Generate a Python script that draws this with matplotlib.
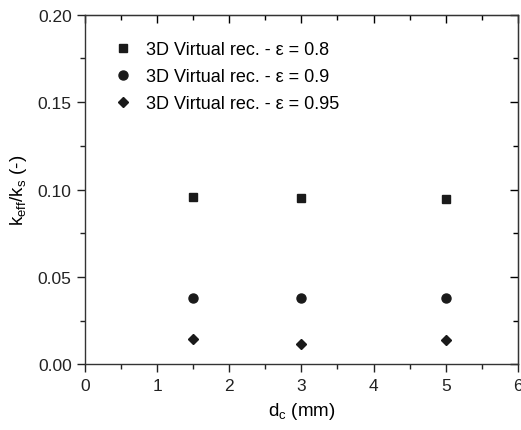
import matplotlib
matplotlib.use("Agg")
import matplotlib.pyplot as plt
from matplotlib.ticker import MultipleLocator

plt.rcParams['font.family'] = ['Liberation Sans', 'DejaVu Sans']
plt.rcParams['mathtext.fontset'] = 'custom'
plt.rcParams['mathtext.rm'] = 'Liberation Sans'
plt.rcParams['mathtext.it'] = 'Liberation Sans'

# cell diameter (mm)
d_c = [1.5, 3, 5]
# effective / solid conductivity ratio per porosity
k_08 = [0.0958, 0.0950, 0.0947]
k_09 = [0.0381, 0.0379, 0.0378]
k_095 = [0.0145, 0.0118, 0.0139]

labels = ["3D Virtual rec. - \u03b5 = 0.8",
          "3D Virtual rec. - \u03b5 = 0.9",
          "3D Virtual rec. - \u03b5 = 0.95"]

fig = plt.figure(figsize=(5.21, 4.31), dpi=100)
ax = fig.add_axes([0.163, 0.152, 0.831, 0.812])

ax.plot(d_c, k_08, ls='none', marker='s', ms=6, color='#1a1a1a', label=labels[0])
ax.plot(d_c, k_09, ls='none', marker='o', ms=6.5, color='#1a1a1a', label=labels[1])
ax.plot(d_c, k_095, ls='none', marker='D', ms=5.5, color='#1a1a1a', label=labels[2])

ax.set_xlim(0, 6)
ax.set_ylim(0, 0.20)
ax.xaxis.set_major_locator(MultipleLocator(1))
ax.xaxis.set_minor_locator(MultipleLocator(0.5))
ax.yaxis.set_major_locator(MultipleLocator(0.05))
ax.yaxis.set_minor_locator(MultipleLocator(0.025))
ax.yaxis.set_major_formatter(matplotlib.ticker.FormatStrFormatter('%.2f'))

ax.tick_params(which='both', direction='out', top=False, right=False, labelsize=12.5, colors='#222222')
ax.tick_params(which='major', length=6, width=1)
ax.tick_params(which='minor', length=3.5, width=1)

# inward ticks on the top and right edges
top = ax.secondary_xaxis('top')
top.xaxis.set_major_locator(MultipleLocator(1))
top.xaxis.set_minor_locator(MultipleLocator(0.5))
top.tick_params(which='both', direction='in', labeltop=False)
top.tick_params(which='major', length=6, width=1)
top.tick_params(which='minor', length=3.5, width=1)
right = ax.secondary_yaxis('right')
right.yaxis.set_major_locator(MultipleLocator(0.05))
right.yaxis.set_minor_locator(MultipleLocator(0.025))
right.tick_params(which='both', direction='in', labelright=False)
right.tick_params(which='major', length=6, width=1)
right.tick_params(which='minor', length=3.5, width=1)

for s in ax.spines.values():
    s.set_linewidth(1)
    s.set_color('#333333')

ax.set_xlabel(r'd$_\mathrm{c}$ (mm)', fontsize=13.5, labelpad=5)
ax.set_ylabel(r'k$_\mathrm{eff}$/k$_\mathrm{s}$ (-)', fontsize=13.5, labelpad=6)

ax.legend(loc='upper left', bbox_to_anchor=(0.02, 0.97), frameon=False,
          fontsize=13, handletextpad=0.5, labelspacing=0.55, handlelength=1.5)

fig.savefig("out.png", dpi=100)
